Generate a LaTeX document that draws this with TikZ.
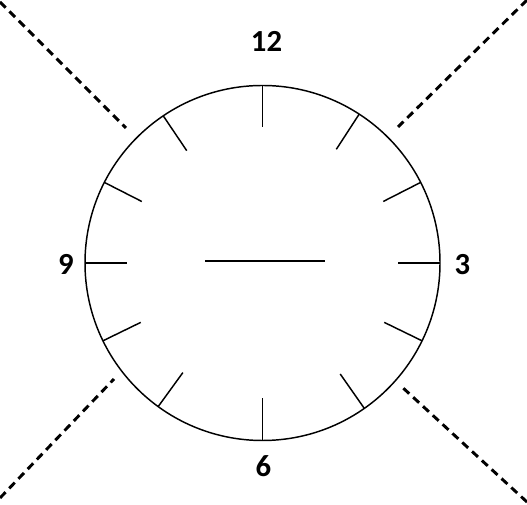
\documentclass[tikz,border=0pt]{standalone}
\usepackage{fontspec}
\setmainfont{Carlito}
\usetikzlibrary{calc}

\begin{document}
\begin{tikzpicture}[x=0.75pt, y=0.75pt, line cap=butt,
    rim/.style={line width=1.1pt},
    hourtick/.style={line width=1.1pt},
    hand/.style={line width=2pt},
    guide/.style={line width=2.2pt, dash pattern=on 6pt off 4pt},
    digit/.style={font=\bfseries\fontsize{23}{23}\selectfont, inner sep=0pt}]
  \definecolor{ink}{HTML}{000000}
  \useasboundingbox[fill=white] (0,0) rectangle (527,505);

  \coordinate (c) at (262.5,242);
  \draw[rim, ink] (c) circle (177.5*0.75pt);
  \foreach \a in {90,57,27,0,-26,-55,-90,-126,-154,180,153,124}
    \draw[hourtick, ink] ($(c)+(\a:177.5)$) -- ($(c)+(\a:135.5)$);
  \draw[hand, ink] (205,244) -- (325,244);

  \draw[guide, ink] (0,503) -- (126,377);
  \draw[guide, ink] (527,505) -- (398,378);
  \draw[guide, ink] (0,7) -- (114,126);
  \draw[guide, ink] (527,3) -- (402,118);

  \node[digit, text=ink] (twelve) at (266.5,463.5) {12};
  \node[digit, text=ink] (three) at (462.5,240.5) {3};
  \node[digit, text=ink] (six) at (263.5,38.5) {6};
  \node[digit, text=ink] (nine) at (66,241) {9};
\end{tikzpicture}
\end{document}
